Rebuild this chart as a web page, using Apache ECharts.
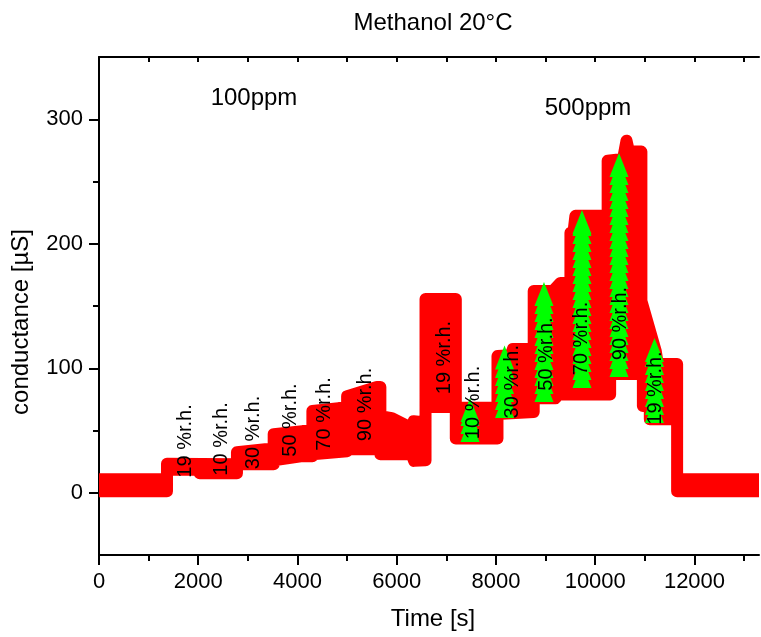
<!DOCTYPE html>
<html>
<head>
<meta charset="utf-8">
<script src="https://cdn.jsdelivr.net/npm/echarts@6/dist/echarts.min.js"></script>
<style>
  html, body { margin: 0; padding: 0; background: #ffffff; }
  #chart { width: 761px; height: 637px; }
</style>
</head>
<body>
<div id="chart"></div>
<script>
// Conductance trace of the sensor: upper and lower edge of the recorded band
// (time in s, conductance in µS). Steps follow the humidity sequence.
const upperTime = [0, 1370, 1370, 2780, 2780, 3350, 3520, 3520, 4100, 4300, 4300, 4830, 5000, 5000, 5600, 5670, 5670, 5900, 6300, 6340, 6580, 6580, 7190, 7190, 8030, 8030, 8300, 8340, 8760, 8760, 9150, 9300, 9500, 9500, 9560, 9600, 10250, 10250, 10560, 10630, 10680, 10930, 10930, 11220, 11260, 11650, 11650, 13300];
const upperCond = [10.9, 10.9, 23.3, 22.8, 32.6, 35.0, 35.0, 47.1, 49.5, 49.5, 65.6, 68.0, 68.0, 77.6, 84.9, 84.9, 61.5, 60.0, 51.9, 57.5, 56.5, 155.7, 155.7, 68.2, 68.2, 109.8, 110.5, 115.4, 115.4, 162.1, 162.1, 168.5, 168.5, 208.8, 208.8, 222.4, 222.4, 266.7, 268.0, 282.8, 274.0, 274.0, 154.0, 113.8, 103.4, 103.4, 10.9, 10.9];

const lowerTime = [0, 1370, 1370, 2030, 2030, 2780, 2780, 3520, 3520, 4100, 4300, 4300, 5000, 5000, 5670, 5670, 6300, 6350, 6580, 6580, 7190, 7190, 8030, 8030, 8760, 8760, 9200, 9250, 10300, 10300, 10960, 10960, 11100, 11100, 11650, 11650, 13300];
const lowerCond = [1.2, 1.2, 18.5, 18.5, 15.7, 15.7, 22.9, 22.9, 26.1, 29.4, 29.4, 31.0, 33.4, 35.0, 35.0, 31.0, 31.0, 25.6, 26.0, 68.8, 68.8, 43.5, 43.5, 63.2, 64.8, 76.0, 76.0, 79.0, 79.0, 95.3, 95.3, 69.6, 69.6, 59.1, 59.1, 1.2, 1.2];

// Second measurement series (stacked triangles) during the 500 ppm steps:
// time of each column, lowest and highest triangle
const triangleTimes = [7477, 8172, 8967, 9733, 10479, 11194];
const triangleLow = [50.4, 69.7, 82.5, 93.8, 102.6, 65.7];
const triangleHigh = [66.5, 108.6, 159.6, 217.5, 263.3, 114.7];

// Humidity annotations placed at (time, conductance)
const noteTimes = [1733, 2469, 3123, 3849, 4534, 5370, 6952, 7537, 8323, 9018, 9727, 10499, 11204];
const noteLevels = [41.6, 43.2, 48.4, 58.4, 63.3, 70.9, 108.6, 72.5, 89.2, 111.4, 123.9, 135.9, 84.1];
const noteTexts = ['19 %r.h.', '10 %r.h.', '30 %r.h.', '50 %r.h.', '70 %r.h.', '90 %r.h.',
                   '19 %r.h.', '10 %r.h.', '30 %r.h.', '50 %r.h.', '70 %r.h.', '90 %r.h.', '19 %r.h.'];

// Axis ticks
const xMajorTicks = [0, 2000, 4000, 6000, 8000, 10000, 12000];
const xMinorTicks = [1000, 3000, 5000, 7000, 9000, 11000, 13000];
const xTopTicks = [0, 1000, 2000, 3000, 4000, 5000, 6000, 7000, 8000, 9000, 10000, 11000, 12000, 13000];
const yMajorTicks = [0, 100, 200, 300];
const yMinorTicks = [50, 150, 250];

const FONT = '"Liberation Sans", Arial, Helvetica, sans-serif';

const upperPts = upperTime.map((t, i) => [t, upperCond[i]]);
const lowerPts = lowerTime.map((t, i) => [t, lowerCond[i]]);
const bandOutline = upperPts.concat(lowerPts.slice().reverse());

const triangleData = triangleTimes.map((t, i) => [t, triangleLow[i], triangleHigh[i]]);
const notes = noteTimes.map((t, i) => [t, noteLevels[i], noteTexts[i]]);

const chart = echarts.init(document.getElementById('chart'), null, { renderer: 'canvas' });

const black = '#000000';
const plainNumber = v => String(v);
const baseX = { type: 'value', min: 0, max: 13300, splitLine: { show: false } };
const baseY = { type: 'value', min: -50, max: 350, splitLine: { show: false } };

// Triangle marker shape (pixel size of one symbol)
const TRI_W = 19, TRI_H = 24, TRI_STEP = 8;
function triangle(x, yc) {
  return {
    type: 'polygon',
    shape: { points: [[x, yc - TRI_H / 2], [x + TRI_W / 2, yc + TRI_H / 2], [x - TRI_W / 2, yc + TRI_H / 2]] },
    style: { fill: '#00ff00' }
  };
}

chart.setOption({
  animation: false,
  backgroundColor: '#ffffff',
  grid: { left: 99, right: 2, top: 57, bottom: 82, containLabel: false },
  xAxis: [
    Object.assign({}, baseX, {
      position: 'bottom',
      axisLine: { show: true, onZero: false, lineStyle: { color: black, width: 2 } },
      axisTick: { show: true, inside: false, length: 10, customValues: xMajorTicks, lineStyle: { color: black, width: 2 } },
      axisLabel: { show: true, customValues: xMajorTicks, formatter: plainNumber, margin: 16, color: black, fontSize: 22, fontFamily: FONT }
    }),
    Object.assign({}, baseX, {
      position: 'bottom',
      axisLine: { show: false, onZero: false },
      axisTick: { show: true, inside: false, length: 6, customValues: xMinorTicks, lineStyle: { color: black, width: 2 } },
      axisLabel: { show: false }
    }),
    Object.assign({}, baseX, {
      position: 'top',
      axisLine: { show: true, onZero: false, lineStyle: { color: black, width: 2 } },
      axisTick: { show: true, inside: true, length: 5, customValues: xTopTicks, lineStyle: { color: black, width: 2 } },
      axisLabel: { show: false }
    })
  ],
  yAxis: [
    Object.assign({}, baseY, {
      position: 'left',
      axisLine: { show: true, onZero: false, lineStyle: { color: black, width: 2 } },
      axisTick: { show: true, inside: false, length: 10, customValues: yMajorTicks, lineStyle: { color: black, width: 2 } },
      axisLabel: { show: true, customValues: yMajorTicks, formatter: plainNumber, margin: 16, color: black, fontSize: 22, fontFamily: FONT }
    }),
    Object.assign({}, baseY, {
      position: 'left',
      axisLine: { show: false, onZero: false },
      axisTick: { show: true, inside: false, length: 6, customValues: yMinorTicks, lineStyle: { color: black, width: 2 } },
      axisLabel: { show: false }
    })
  ],
  graphic: [
    { type: 'text', x: 433, y: 23, z: 10,
      style: { text: 'Methanol 20°C', font: '24px ' + FONT, fill: black, align: 'center', verticalAlign: 'middle', textAlign: 'center', textVerticalAlign: 'middle' } },
    { type: 'text', x: 433, y: 619, z: 10,
      style: { text: 'Time [s]', font: '24px ' + FONT, fill: black, align: 'center', verticalAlign: 'middle', textAlign: 'center', textVerticalAlign: 'middle' } },
    { type: 'text', x: 21.5, y: 322, rotation: Math.PI / 2, z: 10,
      style: { text: 'conductance [µS]', font: '24px ' + FONT, fill: black, align: 'center', verticalAlign: 'middle', textAlign: 'center', textVerticalAlign: 'middle' } },
    { type: 'text', x: 254, y: 98, z: 10,
      style: { text: '100ppm', font: '24px ' + FONT, fill: black, align: 'center', verticalAlign: 'middle', textAlign: 'center', textVerticalAlign: 'middle' } },
    { type: 'text', x: 588, y: 108, z: 10,
      style: { text: '500ppm', font: '24px ' + FONT, fill: black, align: 'center', verticalAlign: 'middle', textAlign: 'center', textVerticalAlign: 'middle' } }
  ],
  series: [
    {
      // Red conductance band, outlined with round joins like overlapping circle markers
      type: 'custom',
      name: 'conductance',
      xAxisIndex: 0,
      yAxisIndex: 0,
      clip: true,
      silent: true,
      z: 2,
      data: bandOutline,
      renderItem: function (params, api) {
        if (params.dataIndex !== 0) return null;
        const pts = bandOutline.map(p => api.coord(p));
        const cs = params.coordSys;
        return {
          type: 'polygon',
          shape: { points: pts },
          style: { fill: '#ff0000', stroke: '#ff0000', lineWidth: 12, lineJoin: 'round' },
          clipPath: { type: 'rect', shape: { x: cs.x, y: cs.y, width: cs.width, height: cs.height } }
        };
      }
    },
    {
      // Columns of green triangle markers from the lowest to the highest reading
      type: 'custom',
      name: 'triangles',
      xAxisIndex: 0,
      yAxisIndex: 0,
      z: 3,
      silent: true,
      encode: { x: 0, y: [1, 2] },
      data: triangleData,
      renderItem: function (params, api) {
        const x = api.coord([api.value(0), api.value(1)])[0];
        const yLow = api.coord([api.value(0), api.value(1)])[1];
        const yHigh = api.coord([api.value(0), api.value(2)])[1];
        const children = [];
        for (let y = yLow; y > yHigh + 0.5; y -= TRI_STEP) children.push(triangle(x, y));
        children.push(triangle(x, yHigh));
        return { type: 'group', children: children };
      }
    },
    {
      type: 'custom',
      name: 'notes',
      xAxisIndex: 0,
      yAxisIndex: 0,
      z: 4,
      silent: true,
      data: notes,
      renderItem: function (params, api) {
        const p = api.coord([api.value(0), api.value(1)]);
        return {
          type: 'text',
          x: p[0],
          y: p[1],
          rotation: Math.PI / 2,
          style: {
            text: notes[params.dataIndex][2],
            font: '20px ' + FONT,
            fill: black,
            align: 'center', verticalAlign: 'middle',
            textAlign: 'center', textVerticalAlign: 'middle'
          }
        };
      }
    }
  ]
});
</script>
</body>
</html>
